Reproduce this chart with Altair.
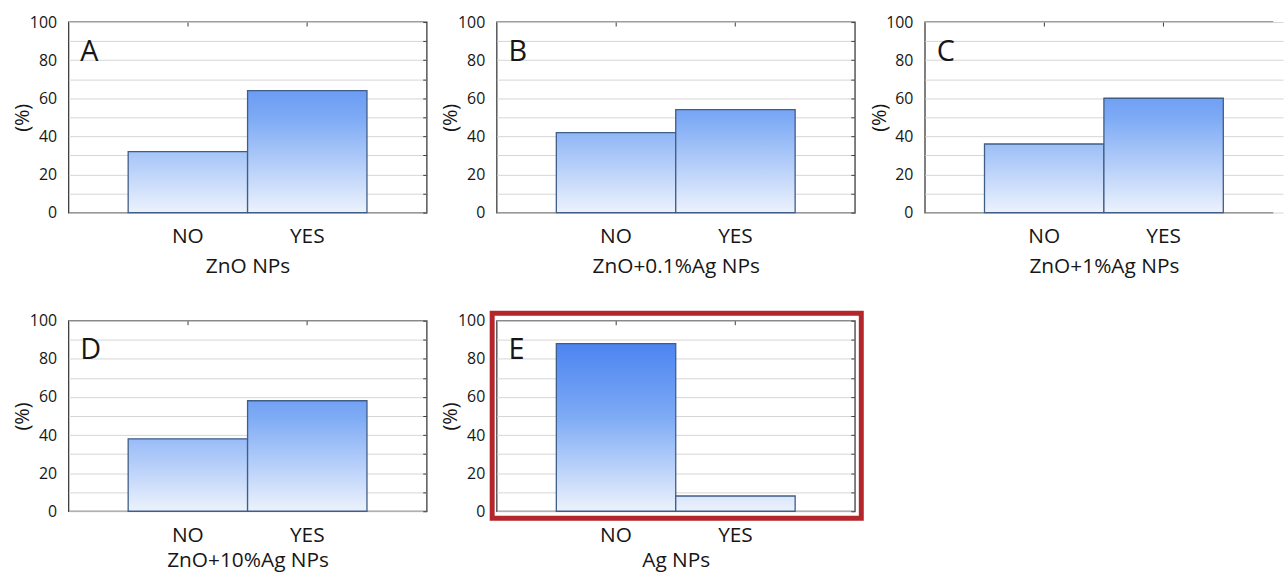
import altair as alt
import pandas as pd

# survey answers per nanoparticle formulation (% of respondents)
categories = ["NO", "YES"]
panel_letters = ["A", "B", "C", "D", "E"]
panel_titles = ["ZnO NPs", "ZnO+0.1%Ag NPs", "ZnO+1%Ag NPs", "ZnO+10%Ag NPs", "Ag NPs"]
no_values = [32, 42, 36, 38, 88]
yes_values = [64, 54, 60, 58, 8]
y_label_values = [0, 20, 40, 60, 80, 100]
grid_values = [0, 10, 20, 30, 40, 50, 60, 70, 80, 90, 100]

FONT = "Open Sans"
PLOT_W = 361
PLOT_H = 192
EDGE_W = 351          # last column is cut at the page edge
FRAME = "#3c3c3c"
BAR_EDGE = "#3f5d86"
TEXT = "#161616"

# fill colour as a function of height on the 0-100 % scale
SHADE = [(0, (236, 242, 253)), (50, (125, 170, 245)), (100, (60, 120, 240))]


def hex_color(rgb):
    return "#%02x%02x%02x" % tuple(int(round(c)) for c in rgb)


def shade_at(v):
    for (v0, c0), (v1, c1) in zip(SHADE, SHADE[1:]):
        if v0 <= v <= v1:
            t = (v - v0) / (v1 - v0)
            return hex_color([a + (b - a) * t for a, b in zip(c0, c1)])
    return hex_color(SHADE[-1][1])


def bar_fill(v):
    """Vertical gradient so that colour tracks the y position on the shared 0-100 scale."""
    stops = [alt.GradientStop(color=shade_at(v), offset=0)]
    for s, c in reversed(SHADE):
        if 0 < s < v:
            stops.append(alt.GradientStop(color=hex_color(c), offset=1 - s / v))
    stops.append(alt.GradientStop(color=shade_at(0), offset=1))
    return alt.LinearGradient(gradient="linear", stops=stops, x1=0, x2=0, y1=0, y2=1)


def panel(i, width=PLOT_W, cut_right=False, title_y=60, highlight=False):
    values = [no_values[i], yes_values[i]]
    df = pd.DataFrame({"answer": categories, "pct": values})

    x_scale = alt.Scale(domain=categories, paddingInner=0, paddingOuter=0.5, range=[0, PLOT_W])
    y_scale = alt.Scale(domain=[0, 100], nice=False)

    x_enc = alt.X(
        "answer:N", scale=x_scale, sort=categories,
        axis=alt.Axis(
            title=panel_titles[i], labelAngle=0, ticks=False, domain=False, grid=False,
            labelPadding=13, labelFontSize=21, labelFont=FONT, labelColor=TEXT,
            titleFontSize=21, titleFont=FONT, titleColor=TEXT, titleFontWeight="normal",
            titleX=PLOT_W / 2, titleY=title_y, titleBaseline="alphabetic", titleAlign="center",
        ),
    )
    y_enc = alt.Y(
        "pct:Q", scale=y_scale,
        axis=alt.Axis(
            title="(%)", values=grid_values,
            labelExpr="datum.value % 20 == 0 ? datum.label : ''",
            grid=True, gridColor="#d6d6d6", gridWidth=1, ticks=False, domain=False,
            labelPadding=12, labelFontSize=16, labelFont=FONT, labelColor=TEXT,
            titleFontSize=20, titleFont=FONT, titleColor=TEXT, titleFontWeight="normal",
            titleAngle=270, titleX=-46, titleBaseline="middle",
        ),
    )

    layers = []
    for cat, v in zip(categories, values):
        layers.append(
            alt.Chart(df)
            .transform_filter(alt.datum.answer == cat)
            .mark_bar(fill=bar_fill(v), stroke=BAR_EDGE, strokeWidth=1.3)
            .encode(x=x_enc, y=y_enc)
        )
    layers.append(
        alt.Chart(alt.Data(values=[{"tag": panel_letters[i]}]))
        .mark_text(font=FONT, fontSize=29, color=TEXT, align="left", baseline="alphabetic")
        .encode(text="tag:N", x=alt.value(12), y=alt.value(39))
    )
    if highlight:
        layers.append(
            alt.Chart(alt.Data(values=[{"tag": panel_letters[i]}]))
            .mark_rect(fill="transparent", stroke="#b3262b", strokeWidth=5)
            .encode(x=alt.value(-4.5), x2=alt.value(PLOT_W + 6.5),
                    y=alt.value(-7.5), y2=alt.value(PLOT_H + 7))
        )
    bars = alt.layer(*layers)

    # small inward ticks along the top and right frame edges
    tick_axis = dict(labels=False, domain=False, grid=False, title=None,
                     tickSize=4, tickColor=FRAME, tickWidth=1, offset=-4)
    tick_y = (alt.Y("pct:Q", scale=y_scale, axis=None) if cut_right else
              alt.Y("pct:Q", scale=y_scale, axis=alt.Axis(orient="right", values=grid_values, **tick_axis)))
    ticks = alt.Chart(df).mark_point(opacity=0).encode(
        x=alt.X("answer:N", scale=x_scale, sort=categories, axis=alt.Axis(orient="top", **tick_axis)),
        y=tick_y,
    )

    if cut_right:
        view = alt.ViewBackground(stroke=FRAME, strokeWidth=1.3,
                                  strokeDash=[width, PLOT_H, width + PLOT_H, 10])
    else:
        view = alt.ViewBackground(stroke=FRAME, strokeWidth=1.3)

    return (
        alt.layer(bars, ticks)
        .resolve_axis(x="independent", y="independent")
        .properties(width=width, height=PLOT_H, view=view)
    )


chart = alt.concat(
    panel(0),
    panel(1),
    panel(2, width=EDGE_W, cut_right=True),
    panel(3, title_y=56),
    panel(4, title_y=56, highlight=True),
    columns=3,
    spacing={"row": 109, "column": 70.5},
    bounds="flush",
).properties(
    padding={"left": 12, "top": 11, "right": 0, "bottom": 0},
    background="white",
).configure_view(stroke=FRAME)

chart.save("out.html", embed_options={"renderer": "svg", "actions": False})
